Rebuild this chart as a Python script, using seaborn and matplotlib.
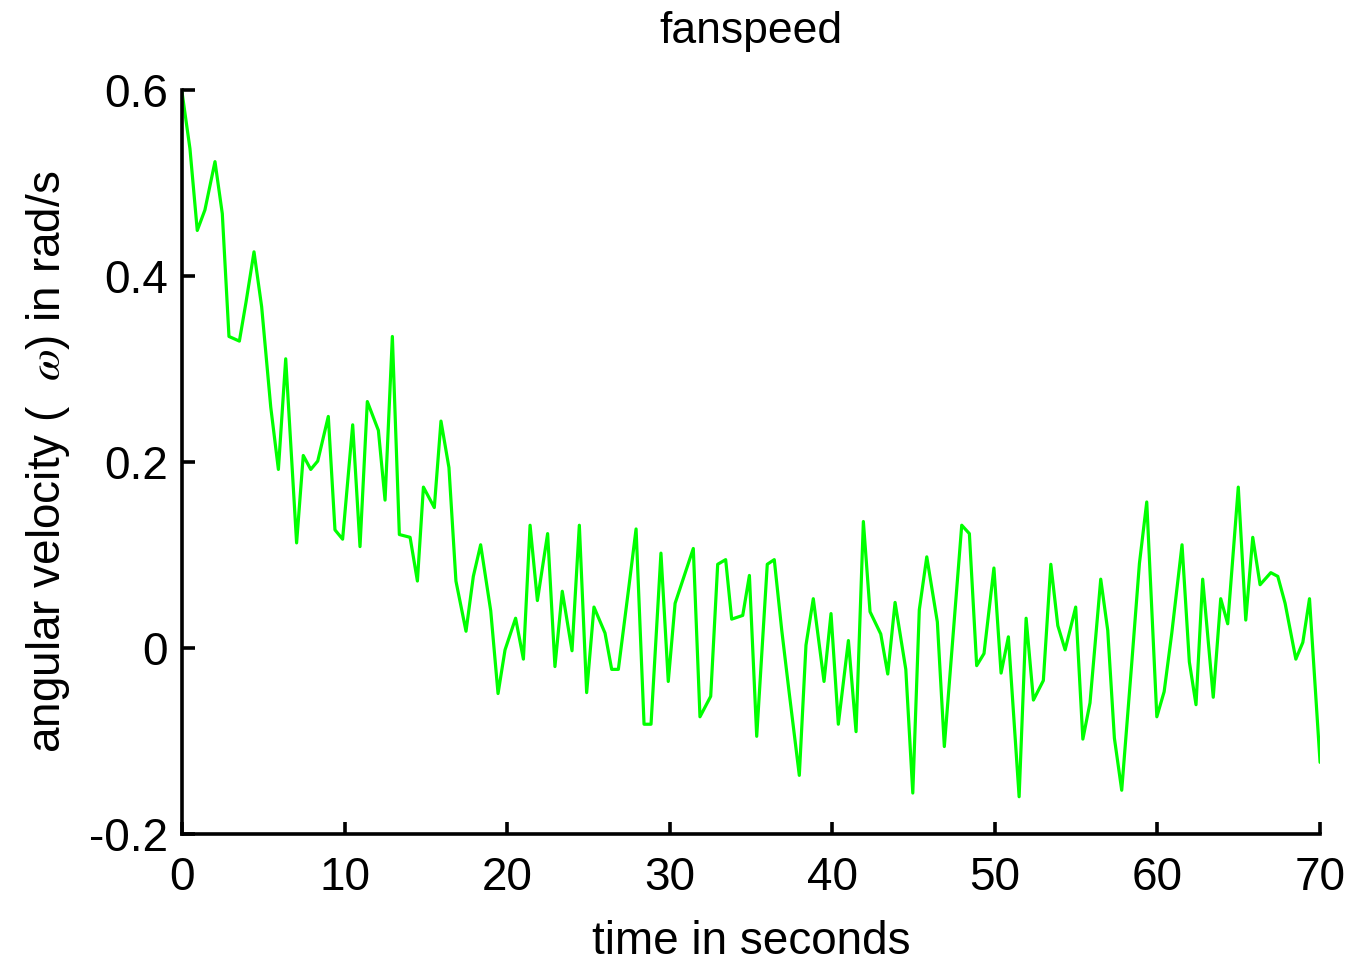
import matplotlib
matplotlib.use("Agg")
import matplotlib.pyplot as plt
import seaborn as sns
import pandas as pd

# time (s) and angular velocity (rad/s)
time_s = [0.00, 0.49, 0.94, 1.41, 2.03, 2.48, 2.89, 3.53, 3.94, 4.43,
          4.90, 5.46, 5.93, 6.38, 7.05, 7.46, 7.92, 8.35, 9.00, 9.41,
          9.88, 10.50, 10.95, 11.40, 12.08, 12.49, 12.94, 13.37, 14.03, 14.48,
          14.85, 15.52, 15.93, 16.42, 16.85, 17.47, 17.92, 18.37, 18.99, 19.44,
          19.87, 20.52, 21.00, 21.41, 21.86, 22.49, 22.94, 23.39, 23.99, 24.44,
          24.89, 25.34, 26.02, 26.43, 26.84, 27.46, 27.93, 28.42, 28.85, 29.46,
          29.91, 30.33, 31.45, 31.86, 32.52, 32.95, 33.44, 33.81, 34.49, 34.90,
          35.35, 36.00, 36.43, 36.89, 37.34, 37.97, 38.38, 38.83, 39.49, 39.92,
          40.37, 40.99, 41.46, 41.91, 42.32, 42.98, 43.41, 43.86, 44.52, 44.95,
          45.35, 45.81, 46.46, 46.89, 47.96, 48.43, 48.88, 49.33, 49.94, 50.38,
          50.83, 51.49, 51.92, 52.37, 52.98, 53.44, 53.87, 54.32, 54.97, 55.41,
          55.85, 56.51, 56.94, 57.35, 57.80, 58.41, 58.89, 59.34, 59.96, 60.41,
          60.88, 61.51, 61.96, 62.37, 62.78, 63.43, 63.89, 64.32, 64.97, 65.43,
          65.86, 66.31, 66.97, 67.40, 67.85, 68.51, 68.94, 69.35, 70.00]
omega = [0.598, 0.537, 0.449, 0.471, 0.523, 0.467, 0.335, 0.330, 0.372, 0.426,
         0.367, 0.259, 0.192, 0.311, 0.113, 0.207, 0.192, 0.201, 0.249, 0.127,
         0.117, 0.240, 0.109, 0.265, 0.234, 0.159, 0.335, 0.122, 0.119, 0.072,
         0.173, 0.151, 0.244, 0.194, 0.072, 0.018, 0.077, 0.111, 0.040, -0.049,
         -0.002, 0.032, -0.012, 0.132, 0.051, 0.123, -0.020, 0.061, -0.003, 0.132,
         -0.048, 0.044, 0.016, -0.023, -0.023, 0.062, 0.128, -0.082, -0.082, 0.102,
         -0.036, 0.048, 0.107, -0.074, -0.052, 0.090, 0.095, 0.031, 0.035, 0.078,
         -0.095, 0.090, 0.095, 0.019, -0.047, -0.137, 0.003, 0.053, -0.036, 0.037,
         -0.082, 0.008, -0.090, 0.136, 0.039, 0.015, -0.028, 0.049, -0.023, -0.156,
         0.041, 0.098, 0.028, -0.106, 0.132, 0.123, -0.019, -0.006, 0.086, -0.027,
         0.012, -0.160, 0.032, -0.056, -0.035, 0.090, 0.024, -0.002, 0.044, -0.098,
         -0.059, 0.074, 0.019, -0.097, -0.153, -0.018, 0.091, 0.157, -0.074, -0.047,
         0.016, 0.111, -0.015, -0.061, 0.074, -0.053, 0.053, 0.026, 0.173, 0.030,
         0.119, 0.068, 0.081, 0.077, 0.048, -0.012, 0.006, 0.053, -0.123]

x_ticks = [0, 10, 20, 30, 40, 50, 60, 70]
y_ticks = [-0.2, 0, 0.2, 0.4, 0.6]
y_tick_labels = ["-0.2", "0", "0.2", "0.4", "0.6"]

df = pd.DataFrame({"time": time_s, "omega": omega})

sns.set_style("ticks")
plt.rcParams["font.family"] = ["Liberation Sans", "DejaVu Sans"]
plt.rcParams["mathtext.fontset"] = "stix"
plt.rcParams["text.color"] = "black"
plt.rcParams["axes.labelcolor"] = "black"
plt.rcParams["xtick.color"] = "black"
plt.rcParams["ytick.color"] = "black"

fig = plt.figure(figsize=(13.51, 9.63), dpi=100)
ax = fig.add_axes([0.1347, 0.134, 0.8424, 0.7725])

sns.lineplot(data=df, x="time", y="omega", color="#00ff00", linewidth=2.3,
             estimator=None, ax=ax)

ax.set_xlim(0, 70)
ax.set_ylim(-0.2, 0.6)
ax.set_xticks(x_ticks)
ax.set_yticks(y_ticks)
ax.set_yticklabels(y_tick_labels)

sns.despine(ax=ax)
for side in ["left", "bottom"]:
    ax.spines[side].set_linewidth(2.6)
    ax.spines[side].set_color("black")

ax.tick_params(axis="both", direction="in", length=9, width=2.6,
               color="black", labelcolor="black")
ax.tick_params(axis="y", labelsize=33, pad=10)
ax.tick_params(axis="x", labelsize=33, pad=16)

ax.set_xlabel("time in seconds", fontsize=33, labelpad=14, color="black")
ax.set_ylabel(r"angular velocity (  $\omega$) in rad/s", fontsize=33,
              labelpad=12, color="black")
ax.set_title("fanspeed", fontsize=32, pad=34, color="black")

fig.savefig("out.png", dpi=100)
